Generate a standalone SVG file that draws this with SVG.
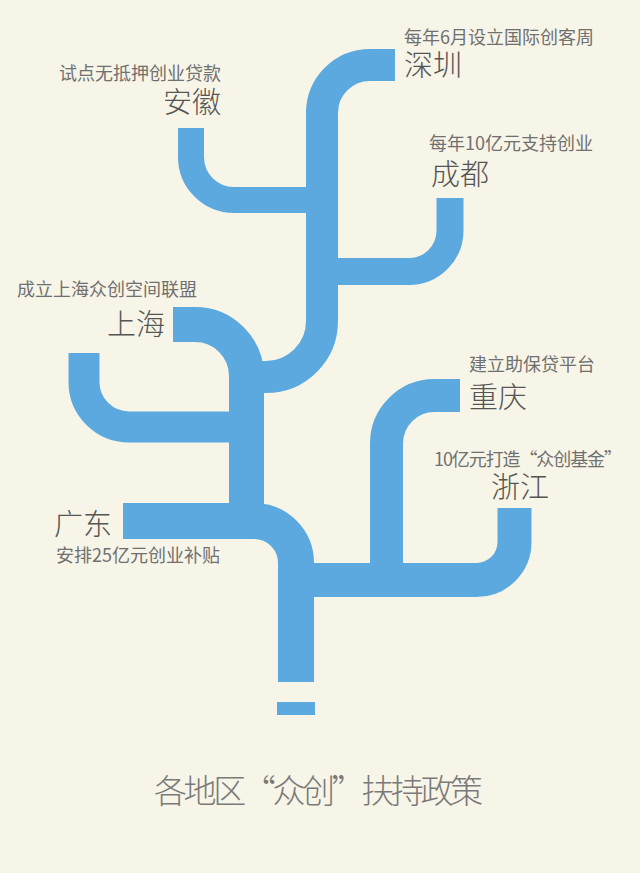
<svg xmlns="http://www.w3.org/2000/svg" width="640" height="873" viewBox="0 0 640 873">
<style>
.b{fill:none;stroke:#5ba9df;stroke-linecap:butt;stroke-linejoin:miter}
.s{font-family:"Noto Sans CJK SC","Noto Sans",sans-serif;font-size:18px;font-weight:400;fill:#707070}
.l{font-family:"Noto Sans CJK SC","Noto Sans",sans-serif;font-size:29px;font-weight:300;fill:#555555}
.t{font-family:"Noto Sans CJK SC","Noto Sans",sans-serif;font-size:33px;font-weight:300;fill:#7a7a7a}
</style>
<rect x="0" y="0" width="640" height="873" fill="#f7f5e7"/>
<g id="connectors">
<path class="b" stroke-width="26" d="M 191 128 V 157 A 43 43 0 0 0 234 200 H 322"/>
<path class="b" stroke-width="27" d="M 450 198 V 230.5 A 41 41 0 0 1 409 271.5 H 322"/>
<path class="b" stroke-width="31" d="M 84 353 V 382 A 45 45 0 0 0 129 427 H 246"/>
<path class="b" stroke-width="35" d="M 173 324.5 H 195 A 51.5 51.5 0 0 1 246.5 376 V 525"/>
<path class="b" stroke-width="32" d="M 395 65 H 370 A 48 48 0 0 0 322 113 V 321 A 56 56 0 0 1 266 377 H 250"/>
<path class="b" stroke-width="33" d="M 460 395.5 H 434.5 A 48 48 0 0 0 386.5 443.5 V 580"/>
<path class="b" stroke-width="34" d="M 514.5 508 V 542 A 38 38 0 0 1 476.5 580 H 296"/>
<path class="b" stroke-width="36" d="M 123 521 H 254 A 42 42 0 0 1 296 563 V 682"/>
<rect x="277" y="702" width="38" height="13" fill="#5ba9df"/>
</g>
<g id="shenzhen">
<text class="s" x="404" y="44">每年6月设立国际创客周</text>
<text class="l" x="404" y="76">深圳</text>
</g>
<g id="anhui">
<text class="s" x="221" y="80" text-anchor="end">试点无抵押创业贷款</text>
<text class="l" x="221" y="113" text-anchor="end" font-size="30">安徽</text>
</g>
<g id="chengdu">
<text class="s" x="429" y="150">每年10亿元支持创业</text>
<text class="l" x="431" y="185" font-size="30">成都</text>
</g>
<g id="shanghai">
<text class="s" x="17" y="296">成立上海众创空间联盟</text>
<text class="l" x="107" y="335" font-size="30">上海</text>
</g>
<g id="chongqing">
<text class="s" x="469" y="371">建立助保贷平台</text>
<text class="l" x="469" y="408">重庆</text>
</g>
<g id="zhejiang">
<text class="s" x="434" y="466" textLength="188" lengthAdjust="spacing">10亿元打造“众创基金”</text>
<text class="l" x="491" y="498">浙江</text>
</g>
<g id="guangdong">
<text class="l" x="54" y="535">广东</text>
<text class="s" x="56" y="562">安排25亿元创业补贴</text>
</g>
<g id="title">
<text class="t" x="154" y="803" textLength="329" lengthAdjust="spacing">各地区“众创”扶持政策</text>
</g>
</svg>
